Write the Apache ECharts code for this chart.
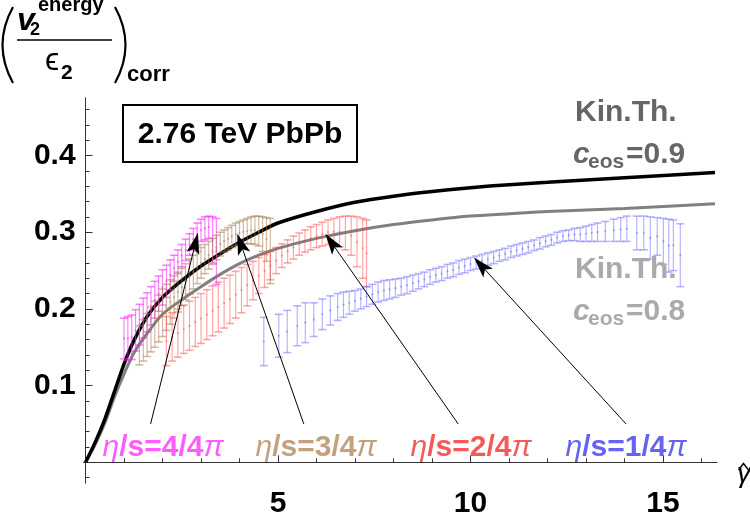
<!DOCTYPE html>
<html><head><meta charset="utf-8">
<script src="https://cdn.jsdelivr.net/npm/echarts@6/dist/echarts.min.js"></script>
<style>html,body{margin:0;padding:0;background:#fff}#c{width:750px;height:519px}</style>
</head><body><div id="c"></div><script>
// ---------- tick values / labels ----------
const xTickValues = [0,1,2,3,4,5,6,7,8,9,10,11,12,13,14,15,16];
const xMajorTicks = [5,10,15];
const xTickLabels = [5,10,15];
const yTickValues = [-0.02,0,0.02,0.04,0.06,0.08,0.1,0.12,0.14,0.16,0.18,0.2,0.22,0.24,0.26,0.28,0.3,0.32,0.34,0.36,0.38,0.4,0.42,0.44,0.46];
const yMajorTicks = [0.1,0.2,0.3,0.4];
const yTickLabels = [0.1,0.2,0.3,0.4];

// ---------- kinetic theory curves ----------
const blackX = [0,0.25,0.5,0.75,1.0,1.25,1.6,2.0,2.5,3.0,3.5,4.0,4.5,5.0,6.0,7.0,8.0,9.0,10.0,11.0,12.0,14.0,16.35];
const blackY = [0,0.026,0.056,0.092,0.128,0.158,0.19,0.215,0.237,0.256,0.272,0.287,0.300,0.312,0.327,0.339,0.347,0.353,0.358,0.362,0.365,0.371,0.378];
const grayX  = [0,0.25,0.5,0.75,1.0,1.25,1.6,2.0,2.5,3.0,3.5,4.0,4.5,5.0,6.0,7.0,8.0,9.0,10.0,11.0,12.0,14.0,16.35];
const grayY  = [0,0.023,0.051,0.085,0.115,0.142,0.168,0.193,0.212,0.229,0.245,0.259,0.270,0.279,0.292,0.302,0.310,0.316,0.321,0.324,0.327,0.331,0.337];

// ---------- hydro data (error bars: low / high) ----------
const magX  = [1.0,1.1,1.2,1.3,1.4,1.5,1.6,1.7,1.8,1.9,2.0,2.1,2.2,2.3,2.4,2.5,2.6,2.7,2.8,2.9,3.0,3.1,3.2,3.3,3.4];
const magHi = [.188,.190,.192,.199,.206,.214,.221,.229,.236,.243,.251,.257,.264,.270,.277,.284,.291,.298,.305,.312,.317,.320,.321,.320,.318];
const magLo = [.135,.133,.134,.145,.153,.162,.170,.179,.188,.197,.205,.215,.225,.236,.246,.255,.263,.270,.277,.283,.288,.290,.292,.260,.232];

const tanX  = [1.4,1.5,1.6,1.7,1.8,1.9,2.0,2.1,2.2,2.3,2.4,2.5,2.6,2.7,2.8,2.9,3.0,3.1,3.2,3.3,3.4,3.5,3.6,3.7,3.8,3.9,4.0,4.1,4.2,4.3,4.4,4.5,4.6,4.7,4.8];
const tanHi = [.178,.186,.194,.202,.210,.218,.226,.232,.238,.243,.248,.253,.259,.265,.270,.275,.280,.284,.288,.292,.296,.300,.303,.306,.309,.312,.314,.316,.318,.320,.321,.321,.320,.319,.318];
const tanLo = [.127,.132,.138,.144,.150,.157,.164,.172,.180,.188,.196,.204,.212,.219,.226,.233,.240,.246,.252,.258,.264,.269,.274,.277,.280,.282,.284,.285,.285,.285,.284,.282,.275,.262,.233];

const redX  = [2.10,2.25,2.40,2.55,2.70,2.85,3.00,3.15,3.30,3.45,3.60,3.75,3.90,4.05,4.20,4.35,4.50,4.65,4.80,4.95,5.10,5.25,5.40,5.55,5.70,5.85,6.00,6.15,6.30,6.45,6.60,6.75,6.90,7.05,7.20,7.30];
const redHi = [.190,.195,.200,.205,.210,.215,.220,.225,.230,.235,.240,.244,.249,.254,.258,.262,.267,.271,.275,.280,.285,.290,.295,.299,.303,.307,.310,.313,.316,.318,.320,.321,.321,.320,.318,.316];
const redLo = [.126,.132,.137,.142,.146,.151,.155,.160,.165,.170,.175,.181,.188,.195,.204,.212,.220,.228,.238,.246,.254,.260,.265,.270,.274,.277,.280,.282,.284,.283,.281,.277,.270,.255,.240,.229];

const bluX  = [4.63,5.02,5.24,5.50,5.71,5.93,6.15,6.36,
  6.55,6.70,6.85,7.00,7.15,7.30,7.45,7.60,7.75,7.90,8.05,8.20,8.35,8.50,8.65,8.80,8.95,9.10,9.25,9.40,
  9.55,9.70,9.85,10.00,10.15,10.30,10.45,10.60,10.75,10.90,11.05,11.20,11.35,11.50,11.65,11.80,11.95,12.10,12.25,12.40,
  12.55,12.70,12.85,13.00,13.15,13.30,
  13.50,13.72,13.90,14.06,14.32,14.50,14.67,14.85,15.01,15.15,15.27,15.45];
const bluHi = [.189,.193,.198,.204,.208,.208,.213,.217,
  .220,.222,.223,.224,.226,.229,.232,.235,.237,.238,.239,.240,.242,.244,.246,.248,.251,.253,.255,.258,
  .260,.263,.265,.267,.269,.271,.273,.275,.277,.279,.282,.284,.286,.288,.290,.293,.295,.297,.300,.302,
  .303,.305,.306,.308,.310,.312,
  .314,.317,.319,.321,.321,.321,.320,.319,.318,.317,.316,.311];
const bluLo = [.126,.137,.143,.152,.156,.164,.173,.179,
  .185,.189,.193,.197,.200,.203,.206,.209,.211,.213,.215,.218,.220,.223,.226,.229,.232,.235,.237,.240,
  .242,.245,.247,.250,.252,.255,.257,.259,.262,.264,.267,.269,.271,.273,.276,.278,.281,.283,.286,.288,
  .289,.289,.288,.288,.288,.288,
  .288,.288,.288,.288,.277,.277,.265,.270,.258,.248,.250,.229];

// ---------- arrows (tail -> head) ----------
const arrowTailX = [1.69,5.67,9.68,14.04];
const arrowTailY = [0.05,0.05,0.05,0.05];
const arrowHeadX = [2.92,3.94,6.23,10.09];
const arrowHeadY = [0.299,0.298,0.298,0.267];

// ---------- labels ----------
const etaLabels = ['4/4','3/4','2/4','1/4'];

const FONT = "'Liberation Sans', Arial, Helvetica, sans-serif";
const zip = (a,b) => a.map((v,i)=>[v,b[i]]);
const zip3 = (a,b,c) => a.map((v,i)=>[v,b[i],c[i]]);

function errRender(color){
  return function(params, api){
    const x = api.value(0), lo = api.value(1), hi = api.value(2);
    const p1 = api.coord([x, lo]), p2 = api.coord([x, hi]);
    const pm = api.coord([x, (lo+hi)/2]);
    const w = 4;
    const st = {stroke: color, lineWidth: 1.2, fill: null};
    const cs = {stroke: color, lineWidth: 1.6, fill: null};
    return {type:'group', children:[
      {type:'line', shape:{x1:p1[0],y1:p1[1],x2:p2[0],y2:p2[1]}, style:st},
      {type:'line', shape:{x1:p1[0]-w,y1:p1[1],x2:p1[0]+w,y2:p1[1]}, style:cs},
      {type:'line', shape:{x1:p2[0]-w,y1:p2[1],x2:p2[0]+w,y2:p2[1]}, style:cs},
      {type:'circle', shape:{cx:pm[0],cy:pm[1],r:1.1}, style:{fill:color}}
    ]};
  };
}
function arrowRender(params, api){
  const a = api.coord([api.value(0), api.value(1)]);
  const b = api.coord([api.value(2), api.value(3)]);
  const dx=b[0]-a[0], dy=b[1]-a[1], L=Math.hypot(dx,dy), ux=dx/L, uy=dy/L;
  const hl=21, hw=6.5;
  const bx=b[0]-ux*hl, by=b[1]-uy*hl;
  const ix=b[0]-ux*hl*0.78, iy=b[1]-uy*hl*0.78;
  return {type:'group', children:[
    {type:'line', shape:{x1:a[0],y1:a[1],x2:ix,y2:iy}, style:{stroke:'#000',lineWidth:1}},
    {type:'polygon', shape:{points:[[b[0],b[1]],[bx-uy*hw,by+ux*hw],[ix,iy],[bx+uy*hw,by-ux*hw]]}, style:{fill:'#000'}}
  ]};
}

function txt(x, y, text, font, fill, align){
  return {type:'text', x:x, y:y, z:100, style:{text:text, font:font, fill:fill,
    align: align||'left', verticalAlign:'middle', textAlign: align||'left', textVerticalAlign:'middle'}};
}

const labelColors = ['#FF5CFF','#C3A07E','#F55A5A','#6464F0'];
const labelCenters = [163,316,471,626];
const graphics = [];
// y axis title
graphics.push({type:'bezierCurve', shape:{x1:13,y1:7,x2:13,y2:83,cpx1:-8,cpy1:45}, style:{stroke:'#000',lineWidth:2.2,fill:null}});
graphics.push({type:'bezierCurve', shape:{x1:115,y1:7,x2:115,y2:83,cpx1:136,cpy1:45}, style:{stroke:'#000',lineWidth:2.2,fill:null}});
graphics.push(txt(17, 21, 'v', 'italic bold 32px '+FONT, '#000'));
graphics.push(txt(30, 30, '2', 'bold 18px '+FONT, '#000'));
graphics.push(txt(38, 5, 'energy', 'bold 20px '+FONT, '#000'));
graphics.push({type:'line', shape:{x1:17,y1:40,x2:112,y2:40}, style:{stroke:'#000',lineWidth:1.5}});
graphics.push(txt(45, 61, '\u03F5', '32px '+FONT, '#000'));
graphics.push(txt(61, 73, '2', 'bold 21px '+FONT, '#000'));
graphics.push(txt(127, 75, 'corr', 'bold 22px '+FONT, '#000'));
// box
graphics.push({type:'rect', shape:{x:123,y:105,width:234,height:57}, style:{stroke:'#000',lineWidth:2,fill:'#fff'}, z:90});
graphics.push(txt(240, 134.6, '2.76 TeV PbPb', 'bold 30px '+FONT, '#000', 'center'));
// Kin.Th. labels
[[0,'#666666','0.9'],[157,'#AAAAAA','0.8']].forEach(([dy,col,val])=>{
  graphics.push(txt(575, 112.6+dy, 'Kin.Th.', 'bold 30px '+FONT, col));
  graphics.push(txt(573, 154.6+dy, 'c', 'italic bold 30px '+FONT, col));
  graphics.push(txt(588, 162.7+dy, 'eos', 'bold 21px '+FONT, col));
  graphics.push(txt(626, 154.6+dy, '='+val, 'bold 30px '+FONT, col));
});
// eta/s labels
etaLabels.forEach((s,i)=>{
  graphics.push({type:'text', x:labelCenters[i], y:447.6, z:100, style:{
    text:'{e|\u03B7}{n|/s='+s+'}{e|\u03C0}', align:'center', verticalAlign:'middle', textAlign:'center', textVerticalAlign:'middle',
    rich:{ e:{font:'italic 30px '+FONT, fill:labelColors[i], fontSize:30, fontStyle:'italic', fontFamily:FONT},
           n:{font:'bold 30px '+FONT, fill:labelColors[i], fontSize:30, fontWeight:'bold', fontFamily:FONT} }
  }});
});
// gamma hat
graphics.push(txt(744, 474.3, '\u03B3', 'italic 28px '+FONT, '#000', 'center'));
graphics.push({type:'polyline', shape:{points:[[738.5,470],[743.5,463.5],[748.5,470]]}, style:{stroke:'#000',lineWidth:1.4,fill:null}, z:100});

const axisColor = '#333';
const chart = echarts.init(document.getElementById('c'), null, {renderer:'canvas'});
chart.setOption({
  animation:false,
  backgroundColor:'#fff',
  grid:{left:83.6, right:33.1, top:98, bottom:22, containLabel:false},
  xAxis:[
    {type:'value', min:-0.05, max:16.4, position:'bottom',
     axisLine:{onZero:true, lineStyle:{color:axisColor,width:1}},
     axisTick:{inside:true, length:4, customValues:xTickValues, lineStyle:{color:axisColor}},
     axisLabel:{customValues:xTickLabels, fontSize:30, fontWeight:'bold', color:'#000', fontFamily:FONT, margin:6},
     splitLine:{show:false}},
    {type:'value', min:-0.05, max:16.4, position:'bottom',
     axisLine:{onZero:true, lineStyle:{color:axisColor,width:1}},
     axisTick:{inside:true, length:7, customValues:xMajorTicks, lineStyle:{color:axisColor}},
     axisLabel:{show:false}, splitLine:{show:false}}
  ],
  yAxis:[
    {type:'value', min:-0.027, max:0.475, position:'left',
     axisLine:{onZero:true, lineStyle:{color:axisColor,width:1}},
     axisTick:{inside:true, length:4, customValues:yTickValues, lineStyle:{color:axisColor}},
     axisLabel:{customValues:yTickLabels, formatter:v=>v.toFixed(1), fontSize:30, fontWeight:'bold', color:'#000', fontFamily:FONT, margin:8},
     splitLine:{show:false}},
    {type:'value', min:-0.027, max:0.475, position:'left',
     axisLine:{onZero:true, lineStyle:{color:axisColor,width:1}},
     axisTick:{inside:true, length:7, customValues:yMajorTicks, lineStyle:{color:axisColor}},
     axisLabel:{show:false}, splitLine:{show:false}}
  ],
  series:[
    {type:'line', data:zip(grayX,grayY), smooth:0.3, showSymbol:false, lineStyle:{color:'#808080',width:3}, z:2},
    {type:'line', data:zip(blackX,blackY), smooth:0.3, showSymbol:false, lineStyle:{color:'#000',width:3.5}, z:2},
    {type:'custom', renderItem:errRender('rgba(255,30,255,0.55)'), data:zip3(magX,magLo,magHi), encode:{x:0,y:[1,2]}, z:3},
    {type:'custom', renderItem:errRender('rgba(165,120,75,0.5)'), data:zip3(tanX,tanLo,tanHi), encode:{x:0,y:[1,2]}, z:3},
    {type:'custom', renderItem:errRender('rgba(255,60,60,0.45)'), data:zip3(redX,redLo,redHi), encode:{x:0,y:[1,2]}, z:3},
    {type:'custom', renderItem:errRender('rgba(80,80,255,0.42)'), data:zip3(bluX,bluLo,bluHi), encode:{x:0,y:[1,2]}, z:3},
    {type:'custom', renderItem:arrowRender, data:arrowTailX.map((v,i)=>[v,arrowTailY[i],arrowHeadX[i],arrowHeadY[i]]), encode:{x:[0,2],y:[1,3]}, z:5}
  ],
  graphic:graphics
});
</script></body></html>
